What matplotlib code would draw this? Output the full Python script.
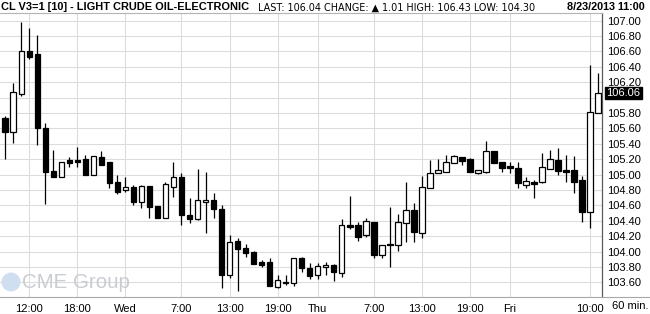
import matplotlib
matplotlib.use("Agg")
import matplotlib.pyplot as plt
from matplotlib.lines import Line2D
from matplotlib.patches import Circle
import numpy as np

# hourly bars, Tue 8/20 09:00 -> Fri 8/23 11:00
opens = [105.73, 105.55, 106.05, 106.60, 106.57, 105.60, 105.05, 104.97, 105.19, 105.19,
         105.20, 105.00, 105.23, 105.16, 104.90, 104.80, 104.84, 104.65, 104.85, 104.59,
         104.43, 104.84, 104.97, 104.48, 104.42, 104.64, 104.67, 104.55, 103.70, 104.14,
         104.05, 103.99, 103.86, 103.86, 103.54, 103.61, 103.59, 103.91, 103.79, 103.69,
         103.80, 103.82, 103.72, 104.35, 104.34, 104.21, 104.38, 103.95, 104.10, 104.09,
         104.37, 104.54, 104.24, 104.82, 105.02, 105.03, 105.15, 105.23, 105.20, 105.02,
         105.04, 105.30, 105.16, 105.11, 105.08, 104.87, 104.90, 104.90, 105.07, 105.19,
         105.06, 105.06, 104.93, 104.51, 105.80]
highs = [105.76, 106.19, 106.98, 106.91, 106.82, 105.67, 105.32, 105.17, 105.23, 105.36,
         105.26, 105.24, 105.31, 105.17, 105.00, 104.97, 104.86, 104.87, 104.85, 104.59,
         104.91, 105.16, 105.02, 104.69, 105.07, 105.03, 104.76, 104.61, 104.22, 104.17,
         104.10, 104.01, 103.89, 103.92, 103.70, 103.70, 103.91, 103.93, 103.85, 103.85,
         103.86, 103.84, 104.42, 104.72, 104.39, 104.43, 104.38, 104.08, 104.58, 104.49,
         104.91, 104.63, 104.98, 105.19, 105.20, 105.25, 105.26, 105.23, 105.21, 105.06,
         105.44, 105.30, 105.16, 105.16, 105.16, 104.97, 104.93, 105.28, 105.32, 105.34,
         105.26, 105.24, 104.98, 106.43, 106.32]
lows = [105.20, 105.41, 106.02, 106.50, 105.39, 104.62, 104.97, 104.97, 105.10, 105.10,
        104.99, 105.00, 105.12, 104.82, 104.75, 104.77, 104.61, 104.57, 104.43, 104.43,
        104.43, 104.71, 104.35, 104.37, 104.41, 104.24, 104.43, 103.53, 103.65, 103.49,
        103.93, 103.84, 103.80, 103.55, 103.52, 103.56, 103.55, 103.73, 103.64, 103.64,
        103.70, 103.62, 103.67, 104.29, 104.14, 104.19, 103.91, 103.92, 103.80, 104.01,
        104.12, 104.13, 104.17, 104.82, 105.02, 105.03, 105.15, 105.13, 105.03, 105.01,
        105.02, 105.15, 105.03, 105.02, 104.83, 104.83, 104.70, 104.89, 105.07, 104.99,
        104.91, 104.76, 104.38, 104.30, 105.80]
closes = [105.55, 106.07, 106.60, 106.53, 105.60, 105.04, 104.97, 105.17, 105.15, 105.17,
          104.99, 105.24, 105.12, 104.89, 104.78, 104.84, 104.65, 104.85, 104.58, 104.43,
          104.88, 104.97, 104.48, 104.42, 104.67, 104.67, 104.55, 103.70, 104.13, 104.03,
          103.98, 103.84, 103.82, 103.55, 103.63, 103.59, 103.91, 103.78, 103.68, 103.81,
          103.82, 103.73, 104.35, 104.32, 104.19, 104.40, 103.95, 104.08, 104.08, 104.39,
          104.54, 104.25, 104.84, 105.02, 105.06, 105.16, 105.24, 105.18, 105.03, 105.06,
          105.30, 105.15, 105.09, 105.08, 104.89, 104.92, 104.88, 105.10, 105.20, 105.05,
          105.04, 104.91, 104.51, 105.81, 106.06]

tick_pos = [3, 9, 15, 22, 28, 34, 39, 46, 52, 58, 63, 73]
tick_labels = ["12:00", "18:00", "Wed", "7:00", "13:00", "19:00", "Thu",
               "7:00", "13:00", "19:00", "Fri", "10:00"]
price_ticks = np.round(np.arange(103.6, 107.01, 0.2), 2)

W, H = 650, 314
fig = plt.figure(figsize=(W / 100, H / 100), dpi=100)
plt.rcParams['font.family'] = ['Liberation Sans', 'DejaVu Sans']
ax = fig.add_axes([0, 1 - 297 / H, 602 / W, (297 - 13) / H])

x = np.arange(len(opens))
o = np.array(opens); c = np.array(closes)
up = c >= o
bottom = np.minimum(o, c)
height = np.maximum(np.abs(c - o), 0.012)

ax.vlines(x, lows, highs, color="black", lw=0.9, zorder=3)
ax.bar(x[up], height[up], bottom=bottom[up], width=0.7, facecolor="white",
       edgecolor="black", linewidth=0.9, zorder=4)
ax.bar(x[~up], height[~up], bottom=bottom[~up], width=0.7, facecolor="black",
       edgecolor="black", linewidth=0.9, zorder=4)

ax.set_xlim(-0.66, 74.5)
ax.set_ylim(103.409, 107.10)
ax.set_xticks(tick_pos)
ax.set_xticklabels(tick_labels)
ax.set_yticks(price_ticks)
# the last-price box hides the scale label right under it
ax.set_yticklabels(["" if abs(p - closes[-1]) < 0.1 else f"{p:.2f}" for p in price_ticks])
ax.yaxis.tick_right()
ax.tick_params(axis="both", length=0, labelsize=8, colors="black")
ax.tick_params(axis="x", pad=5)
ax.tick_params(axis="y", pad=3.5)
ax.grid(True, color="#dcdcdc", lw=0.8, zorder=0)
ax.set_axisbelow(True)
ax.spines["left"].set_visible(False)
ax.spines["top"].set_color("#b4b4b4")
ax.spines["top"].set_linewidth(0.8)
ax.spines["bottom"].set_color("#a8a8a8")
ax.spines["bottom"].set_linewidth(0.8)
ax.spines["right"].set_color("#5a5a5a")
ax.spines["right"].set_linewidth(0.9)

# bottom rule continues under the price scale
fig.add_artist(Line2D([602 / W, 1], [1 - 297 / H, 1 - 297 / H], color="#a8a8a8", lw=0.8))
fig.add_artist(Line2D([0, 1], [0.5 / H, 0.5 / H], color="#d0d0d0", lw=0.8))

fig.text(648 / W, 1 - 306 / H, "60 min.", ha="right", va="center", fontsize=8)

# last price marker
ax.annotate(f"{closes[-1]:.2f}", xy=(1.0, closes[-1]), xycoords=("axes fraction", "data"),
            xytext=(3, 0), textcoords="offset points", ha="left", va="center",
            fontsize=8, color="white",
            bbox=dict(boxstyle="square,pad=0.12", facecolor="black", edgecolor="black"))

# header
fig.text(1 / W, 1 - 7.5 / H, "CL V3=1 [10] - LIGHT CRUDE OIL-ELECTRONIC",
         fontweight="bold", fontsize=7.9, ha="left", va="center")
fig.text(258 / W, 1 - 8 / H, "LAST: 106.04 CHANGE: \u25b2 1.01 HIGH: 106.43 LOW: 104.30",
         family=['DejaVu Sans'], fontsize=6.9, ha="left", va="center")
fig.text(645 / W, 1 - 7.5 / H, "8/23/2013 11:00",
         fontweight="bold", fontsize=7.8, ha="right", va="center")

# CME Group watermark
fig.add_artist(Circle((11 / 100, (H - 282) / 100), 9.5 / 100, transform=fig.dpi_scale_trans,
                      facecolor="#cfdff0", edgecolor="none", zorder=1))
fig.text(22 / W, 1 - 282 / H, "CME Group", fontsize=14.8, color="#c9cdd2",
         ha="left", va="center")

fig.savefig("out.png", dpi=100)
